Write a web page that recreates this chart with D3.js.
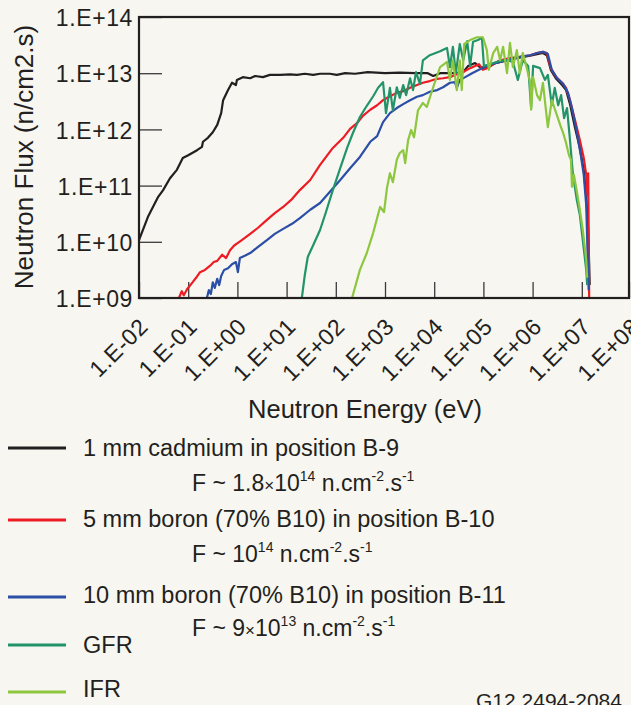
<!DOCTYPE html>
<html>
<head>
<meta charset="utf-8">
<script src="https://cdn.jsdelivr.net/npm/d3@7"></script>
<style>
  html, body { margin: 0; padding: 0; background: #f7f6f0; }
  svg { display: block; font-family: "Liberation Sans", Arial, sans-serif; }
  text { fill: #231f20; }
</style>
</head>
<body>
<div id="chart"></div>
<script>
// each point: [log10 energy (eV), log10 flux (n/cm2.s)]
var cadmiumB9 = [
  [-2.00,10.03],[-1.82,10.44],[-1.61,10.80],[-1.51,10.92],[-1.37,11.13],[-1.23,11.28],[-1.11,11.49],
  [-1.00,11.54],[-0.82,11.63],[-0.72,11.69],[-0.70,11.78],[-0.60,11.85],[-0.50,11.95],[-0.41,12.08],
  [-0.33,12.29],[-0.29,12.52],[-0.19,12.70],[-0.11,12.83],[-0.03,12.79],[-0.01,12.88],[0.11,12.93],
  [0.26,12.91],[0.36,12.95],[0.52,12.93],[0.66,12.97],[0.87,12.97],[1.07,12.98],[1.21,12.97],
  [1.37,12.99],[1.54,12.97],[1.68,12.99],[1.88,12.99],[2.02,12.97],[2.19,13.00],[2.39,12.99],
  [2.65,13.02],[3.00,13.00],[3.30,13.01],[3.61,13.00],[3.87,13.00],[3.98,12.95],[4.12,13.00],
  [4.42,13.00],[4.59,13.02],[4.69,13.13],[4.83,13.18],[4.93,13.11],[5.07,13.09],[5.24,13.18],
  [5.44,13.22],[5.70,13.27],[5.95,13.31],[6.09,13.34],[6.21,13.36],[6.29,13.32],[6.37,13.06],
  [6.48,12.90],[6.60,12.79],[6.68,12.70],[6.76,12.45],[6.86,12.04],[6.96,11.67],[7.04,11.28],
  [7.09,10.80],[7.13,10.21],[7.15,9.59],[7.16,9.23]
];
var boron5B10 = [
  [-1.19,9.00],[-1.13,9.12],[-1.09,9.05],[-1.02,9.16],[-0.92,9.27],[-0.84,9.36],[-0.76,9.46],
  [-0.66,9.50],[-0.56,9.57],[-0.48,9.64],[-0.41,9.66],[-0.31,9.77],[-0.23,9.71],[-0.15,9.85],
  [-0.07,9.93],[0.01,9.98],[0.09,10.03],[0.26,10.14],[0.42,10.25],[0.60,10.39],[0.76,10.51],
  [0.93,10.62],[1.11,10.76],[1.27,10.92],[1.48,11.10],[1.68,11.37],[1.94,11.67],[2.15,11.85],
  [2.29,12.01],[2.43,12.11],[2.55,12.24],[2.70,12.35],[2.84,12.43],[2.96,12.52],[3.10,12.59],
  [3.24,12.65],[3.37,12.68],[3.51,12.74],[3.65,12.79],[3.77,12.83],[3.91,12.86],[4.06,12.90],
  [4.18,12.91],[4.32,12.93],[4.46,12.98],[4.59,13.02],[4.73,13.09],[4.83,13.13],[4.91,13.16],
  [4.99,13.06],[5.07,13.09],[5.20,13.16],[5.34,13.23],[5.54,13.27],[5.74,13.29],[5.95,13.32],
  [6.09,13.36],[6.21,13.38],[6.29,13.36],[6.37,13.09],[6.48,12.93],[6.60,12.83],[6.68,12.74],
  [6.76,12.52],[6.86,12.17],[6.96,11.81],[7.04,11.49],[7.09,11.19],[7.11,10.83],[7.13,11.22],
  [7.14,10.21],[7.15,8.96]
];
var boron10B11 = [
  [-0.62,9.00],[-0.58,9.14],[-0.54,9.07],[-0.50,9.28],[-0.46,9.18],[-0.41,9.34],[-0.37,9.23],
  [-0.33,9.39],[-0.27,9.50],[-0.19,9.53],[-0.11,9.60],[-0.03,9.64],[0.01,9.46],[0.05,9.71],
  [0.15,9.75],[0.26,9.80],[0.42,9.91],[0.60,10.03],[0.76,10.14],[0.93,10.23],[1.11,10.32],
  [1.27,10.42],[1.48,10.57],[1.68,10.69],[1.88,10.89],[2.09,11.10],[2.29,11.31],[2.49,11.51],
  [2.70,11.78],[2.84,11.88],[2.96,12.13],[3.10,12.29],[3.24,12.38],[3.37,12.45],[3.51,12.52],
  [3.65,12.58],[3.77,12.61],[3.91,12.67],[4.06,12.70],[4.18,12.75],[4.32,12.83],[4.42,12.84],
  [4.46,12.74],[4.52,12.88],[4.63,12.93],[4.77,13.00],[4.93,13.07],[5.13,13.15],[5.34,13.20],
  [5.54,13.25],[5.74,13.29],[5.95,13.32],[6.09,13.36],[6.21,13.38],[6.31,13.34],[6.39,13.06],
  [6.50,12.91],[6.62,12.81],[6.72,12.65],[6.80,12.38],[6.90,11.95],[6.98,11.54],[7.04,11.19],
  [7.09,10.65],[7.11,10.03],[7.13,9.41],[7.14,9.14]
];
var gfr = [
  [1.31,9.00],[1.37,9.41],[1.43,9.73],[1.54,9.94],[1.68,10.21],[1.80,10.53],[1.94,10.92],
  [2.09,11.31],[2.23,11.67],[2.35,11.94],[2.49,12.22],[2.63,12.42],[2.76,12.59],[2.86,12.74],
  [2.96,12.84],[3.02,12.29],[3.10,12.74],[3.16,12.34],[3.24,12.75],[3.30,12.56],[3.37,12.79],
  [3.43,12.61],[3.51,12.91],[3.57,12.70],[3.63,13.02],[3.71,12.81],[3.77,13.23],[3.91,13.32],
  [4.12,13.39],[4.26,13.45],[4.32,13.11],[4.38,13.47],[4.44,13.00],[4.52,13.52],[4.59,13.23],
  [4.67,13.57],[4.73,13.13],[4.79,13.56],[4.89,13.59],[4.97,13.63],[5.01,13.13],[5.13,13.16],
  [5.34,13.22],[5.50,13.23],[5.60,13.20],[5.70,12.88],[5.80,13.23],[5.91,13.13],[5.97,12.38],
  [6.01,13.13],[6.15,13.09],[6.25,12.88],[6.31,12.97],[6.39,12.43],[6.45,12.74],[6.52,12.43],
  [6.58,12.61],[6.64,12.20],[6.70,12.38],[6.76,11.81],[6.82,11.19],[6.90,10.74],[6.96,10.48],
  [7.02,10.03],[7.09,9.50],[7.11,9.23]
];
var ifr = [
  [2.33,9.00],[2.49,9.50],[2.63,9.80],[2.76,10.16],[2.90,10.62],[2.98,10.53],[3.04,10.96],
  [3.10,11.22],[3.16,11.06],[3.24,11.46],[3.30,11.58],[3.37,11.63],[3.41,11.40],[3.47,11.81],
  [3.53,11.99],[3.59,11.86],[3.67,12.34],[3.77,12.47],[3.85,12.40],[3.98,12.75],[4.12,13.11],
  [4.26,13.20],[4.32,12.88],[4.38,13.23],[4.46,12.70],[4.52,13.23],[4.56,12.70],[4.61,13.52],
  [4.73,13.59],[4.87,13.64],[4.99,13.64],[5.07,13.41],[5.11,13.06],[5.20,13.36],[5.28,13.47],
  [5.34,13.23],[5.40,13.47],[5.48,13.00],[5.54,13.54],[5.60,13.11],[5.68,13.41],[5.74,13.00],
  [5.80,13.36],[5.89,13.06],[5.95,12.84],[5.97,12.35],[6.01,12.93],[6.09,12.61],[6.15,12.52],
  [6.21,12.83],[6.27,12.35],[6.31,12.04],[6.39,12.52],[6.48,12.29],[6.56,12.08],[6.62,11.94],
  [6.68,11.76],[6.74,11.54],[6.78,11.46],[6.80,10.98],[6.84,11.19],[6.90,10.89],[6.96,10.57],
  [7.02,10.21],[7.09,9.68],[7.11,9.36]
];

var seriesNames = [
  "1 mm cadmium in position B-9",
  "5 mm boron (70% B10) in position B-10",
  "10 mm boron (70% B10) in position B-11",
  "GFR",
  "IFR"
];
var seriesColors = ["#231f20", "#ed1c24", "#2b4ea6", "#23946a", "#8dc63f"];
var seriesData = [cadmiumB9, boron5B10, boron10B11, gfr, ifr];
// total flux notes under the first three entries: mantissa, exponent
var fluxMantissa = ["1.8", "", "9"];
var fluxExponent = ["14", "14", "13"];

var energyTicks = [1e-2, 1e-1, 1e0, 1e1, 1e2, 1e3, 1e4, 1e5, 1e6, 1e7, 1e8];
var fluxTicks = [1e9, 1e10, 1e11, 1e12, 1e13, 1e14];

var width = 631;
var height = 705;
var plotLeft = 139, plotTop = 17, plotW = 490, plotH = 281;

var svg = d3.select("#chart").append("svg")
  .attr("width", width)
  .attr("height", height);

svg.append("rect").attr("width", width).attr("height", height).attr("fill", "#f7f6f0");

var x = d3.scaleLog().domain([1e-2, 1e8]).range([plotLeft, plotLeft + 492]);
var y = d3.scaleLog().domain([1e9, 1e14]).range([plotTop + plotH, plotTop]);

function sciLabel(v) {
  var e = Math.round(Math.log10(v));
  return "1.E" + (e < 0 ? "-" : "+") + String(Math.abs(e)).padStart(2, "0");
}

svg.append("clipPath").attr("id", "plotClip")
  .append("rect").attr("x", plotLeft).attr("y", plotTop).attr("width", plotW).attr("height", plotH);

// y axis, ticks point inward
var yAxis = svg.append("g")
  .attr("transform", "translate(" + plotLeft + ",0)")
  .call(d3.axisLeft(y).tickValues(fluxTicks).tickFormat(sciLabel).tickSize(-23).tickPadding(6));
yAxis.select(".domain").remove();
yAxis.selectAll("line").attr("stroke", "#3a3a3a").attr("stroke-width", 1.3);
yAxis.selectAll("text")
  .attr("font-size", "23px").attr("font-family", "Liberation Sans, Arial, sans-serif")
  .attr("fill", "#231f20").attr("dy", "0.38em").style("letter-spacing", "0.6px");

// x axis
var xAxis = svg.append("g")
  .attr("transform", "translate(0," + (plotTop + plotH) + ")")
  .call(d3.axisBottom(x).tickValues(energyTicks).tickFormat(sciLabel).tickSize(-16));
xAxis.select(".domain").remove();
xAxis.selectAll("line").attr("stroke", "#3a3a3a").attr("stroke-width", 1.3);
xAxis.selectAll("text")
  .attr("y", null).attr("dy", null)
  .attr("transform", "translate(10,30) rotate(-45)")
  .attr("text-anchor", "end")
  .attr("font-size", "23px").attr("font-family", "Liberation Sans, Arial, sans-serif")
  .attr("fill", "#231f20").style("letter-spacing", "0.6px");

// curves
var line = d3.line()
  .x(d => x(Math.pow(10, d[0])))
  .y(d => y(Math.pow(10, d[1])));

svg.append("g").attr("clip-path", "url(#plotClip)")
  .selectAll("path")
  .data(seriesData)
  .enter().append("path")
  .attr("d", line)
  .attr("fill", "none")
  .attr("stroke", (d, i) => seriesColors[i])
  .attr("stroke-width", 2.2)
  .attr("stroke-linejoin", "round");

// frame
svg.append("rect")
  .attr("x", plotLeft).attr("y", plotTop).attr("width", plotW).attr("height", plotH)
  .attr("fill", "none").attr("stroke", "#231f20").attr("stroke-width", 2.2);

// axis titles
svg.append("text")
  .attr("transform", "translate(33," + (plotTop + 140) + ") rotate(-90)")
  .attr("text-anchor", "middle")
  .attr("font-size", "26px")
  .text("Neutron Flux (n/cm2.s)");

svg.append("text")
  .attr("x", 365).attr("y", 418)
  .attr("text-anchor", "middle")
  .attr("font-size", "25.5px")
  .text("Neutron Energy (eV)");

// legend
var legendLineY = [448, 520, 597, 645, 692];
var legendTextY = [456, 527, 603, 653, 697];
var fluxTextY = [491, 562, 636];

var legend = svg.append("g");
seriesNames.forEach(function (name, i) {
  legend.append("line")
    .attr("x1", 8).attr("x2", 66)
    .attr("y1", legendLineY[i]).attr("y2", legendLineY[i])
    .attr("stroke", seriesColors[i]).attr("stroke-width", 3);
  legend.append("text")
    .attr("x", 83).attr("y", legendTextY[i])
    .attr("font-size", "23.5px")
    .text(name);
});

fluxExponent.forEach(function (exp, i) {
  var t = legend.append("text")
    .attr("x", 192).attr("y", fluxTextY[i])
    .attr("font-size", "23px");
  t.append("tspan").text("F ~ " + fluxMantissa[i]);
  if (fluxMantissa[i] !== "") {
    t.append("tspan").attr("font-size", "17px").text("\u00d7");
  }
  t.append("tspan").text("10");
  t.append("tspan").attr("font-size", "14px").attr("dy", -10).text(exp);
  t.append("tspan").attr("dy", 10).text(" n.cm");
  t.append("tspan").attr("font-size", "14px").attr("dy", -10).text("-2");
  t.append("tspan").attr("dy", 10).text(".s");
  t.append("tspan").attr("font-size", "14px").attr("dy", -10).text("-1");
});

svg.append("text")
  .attr("x", 476).attr("y", 708)
  .attr("font-size", "21px")
  .text("G12 2494-2084");
</script>
</body>
</html>
